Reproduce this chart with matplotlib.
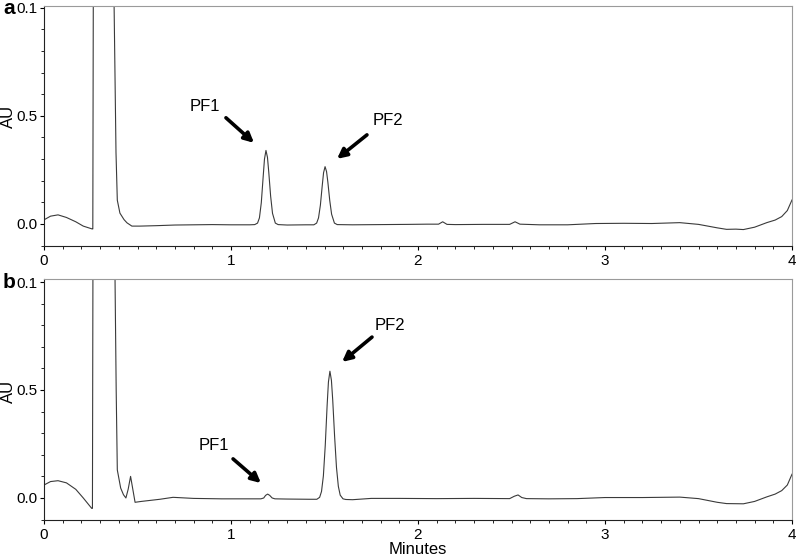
import numpy as np
import matplotlib.pyplot as plt
from matplotlib.ticker import MultipleLocator, FixedLocator, FixedFormatter

plt.rcParams['font.family'] = ['Liberation Sans', 'DejaVu Sans']

# chromatogram a (minutes, AU)
a_t = [0.00, 0.035, 0.075, 0.12, 0.17, 0.21, 0.257, 0.261, 0.265, 0.372, 0.375, 0.385,
       0.392, 0.406, 0.428, 0.444, 0.47, 0.513, 0.6, 0.7, 0.8, 0.9, 1.0, 1.1,
       1.127, 1.142, 1.152, 1.162, 1.172, 1.179, 1.187, 1.195, 1.202, 1.212, 1.222, 1.237, 1.252,
       1.3, 1.4, 1.443,
       1.458, 1.468, 1.478, 1.488, 1.495, 1.503, 1.511, 1.518, 1.528, 1.538, 1.553, 1.568,
       1.65, 1.8, 1.95, 2.05, 2.11, 2.132, 2.155, 2.2, 2.35, 2.49, 2.519, 2.545,
       2.65, 2.8, 2.95, 3.1, 3.25, 3.4, 3.5, 3.6, 3.65, 3.7, 3.74, 3.8, 3.865, 3.91,
       3.945, 3.975, 4.0]
a_au = [0.019, 0.036, 0.042, 0.030, 0.010, -0.010, -0.023, -0.023, 1.6, 1.6, 1.0, 0.33,
        0.11, 0.05, 0.02, 0.005, -0.01, -0.01, -0.008, -0.005, -0.004, -0.003, -0.004, -0.004,
        -0.003, 0.004, 0.028, 0.098, 0.218, 0.300, 0.340, 0.308, 0.239, 0.128, 0.049, 0.004, -0.003,
        -0.005, -0.004, -0.004,
        0.004, 0.028, 0.087, 0.178, 0.237, 0.265, 0.242, 0.193, 0.109, 0.045, 0.004, -0.003,
        -0.004, -0.003, -0.002, -0.001, -0.001, 0.010, -0.002, -0.003, -0.002, -0.002, 0.010, -0.001,
        -0.004, -0.004, 0.002, 0.003, 0.002, 0.006, -0.002, -0.018, -0.025, -0.024, -0.026, -0.015,
        0.006, 0.018, 0.034, 0.062, 0.111]

# chromatogram b (minutes, AU)
b_t = [0.00, 0.035, 0.075, 0.12, 0.17, 0.21, 0.255, 0.259, 0.263, 0.375, 0.38, 0.386,
       0.392, 0.41, 0.425, 0.438, 0.45, 0.463, 0.475, 0.487, 0.52, 0.62, 0.69, 0.8, 0.95, 1.1,
       1.16, 1.175, 1.185, 1.196, 1.207, 1.22, 1.235,
       1.3, 1.42, 1.459,
       1.474, 1.484, 1.494, 1.504, 1.514, 1.521, 1.529, 1.537, 1.544, 1.554, 1.564, 1.574,
       1.584, 1.599, 1.614,
       1.65, 1.75, 1.9, 2.1, 2.3, 2.49, 2.515, 2.535, 2.555, 2.58, 2.7, 2.85, 3.0, 3.2,
       3.4, 3.5, 3.6, 3.65, 3.74, 3.8, 3.865, 3.91, 3.945, 3.975, 4.0]
b_au = [0.060, 0.076, 0.080, 0.070, 0.040, 0.000, -0.048, -0.048, 1.6, 1.6, 1.0, 0.5,
        0.13, 0.046, 0.015, 0.000, 0.040, 0.100, 0.040, -0.020, -0.016, -0.006, 0.003, -0.002, -0.004, -0.004,
        -0.004, 0.000, 0.012, 0.018, 0.012, 0.000, -0.004,
        -0.005, -0.006, -0.006,
        0.003, 0.030, 0.102, 0.243, 0.428, 0.537, 0.587, 0.545, 0.453, 0.286, 0.142, 0.054,
        0.013, -0.004, -0.007,
        -0.008, -0.002, -0.002, -0.003, -0.002, -0.003, 0.008, 0.014, 0.002, -0.003, -0.004, -0.003, 0.002, 0.002,
        0.004, -0.003, -0.020, -0.026, -0.027, -0.016, 0.005, 0.018, 0.034, 0.060, 0.110]

yticks = [0.0, 0.5, 1.0]
ytick_labels = ['0.0', '0.5', '0.1']
xticks = [0, 1, 2, 3, 4]

fig = plt.figure(figsize=(7.97, 5.6), dpi=100)
ax_a = fig.add_axes([44/797, (560-246)/560, 748/797, 240/560])
ax_b = fig.add_axes([44/797, (560-520)/560, 748/797, 241/560])

for ax, t, au, ytop, lab_y in [(ax_a, a_t, a_au, 1.008, 0.54), (ax_b, b_t, b_au, 1.014, 0.535)]:
    ax.plot(t, au, color='#3a3a3a', lw=0.8)
    ax.set_xlim(0, 4)
    ax.set_ylim(-0.102, ytop)
    ax.xaxis.set_major_locator(FixedLocator(xticks))
    ax.xaxis.set_minor_locator(MultipleLocator(0.1))
    ax.yaxis.set_major_locator(FixedLocator(yticks))
    ax.yaxis.set_major_formatter(FixedFormatter(ytick_labels))
    ax.yaxis.set_minor_locator(MultipleLocator(0.1))
    ax.tick_params(which='major', direction='out', length=3, width=0.8, labelsize=11, pad=2)
    ax.tick_params(which='minor', direction='out', length=2, width=0.6)
    ax.tick_params(axis='x', which='major', pad=3)
    for s in ['top', 'right']:
        ax.spines[s].set_color('#9a9a9a')
    for s in ['left', 'bottom']:
        ax.spines[s].set_color('#222222')
    ax.set_ylabel('AU', fontsize=12)
    ax.yaxis.set_label_coords(-0.037, lab_y)

arrow = dict(arrowstyle='-|>', lw=2.6, color='black', mutation_scale=14, shrinkA=0, shrinkB=0)

ax_a.annotate('', xy=(1.123, 0.375), xytext=(0.973, 0.491), arrowprops=arrow)
ax_a.text(0.858, 0.542, 'PF1', fontsize=12, ha='center', va='center')
ax_a.annotate('', xy=(1.567, 0.301), xytext=(1.727, 0.412), arrowprops=arrow)
ax_a.text(1.84, 0.477, 'PF2', fontsize=12, ha='center', va='center')

ax_b.annotate('', xy=(1.160, 0.069), xytext=(1.011, 0.181), arrowprops=arrow)
ax_b.text(0.909, 0.245, 'PF1', fontsize=12, ha='center', va='center')
ax_b.annotate('', xy=(1.594, 0.630), xytext=(1.754, 0.745), arrowprops=arrow)
ax_b.text(1.85, 0.80, 'PF2', fontsize=12, ha='center', va='center')

ax_b.set_xlabel('Minutes', fontsize=12, labelpad=0)

fig.text(3/797, 1 - 14/560, 'a', fontsize=15, fontweight='bold', va='baseline')
fig.text(3/797, 1 - 288/560, 'b', fontsize=15, fontweight='bold', va='baseline')

fig.savefig('out.png', dpi=100)
